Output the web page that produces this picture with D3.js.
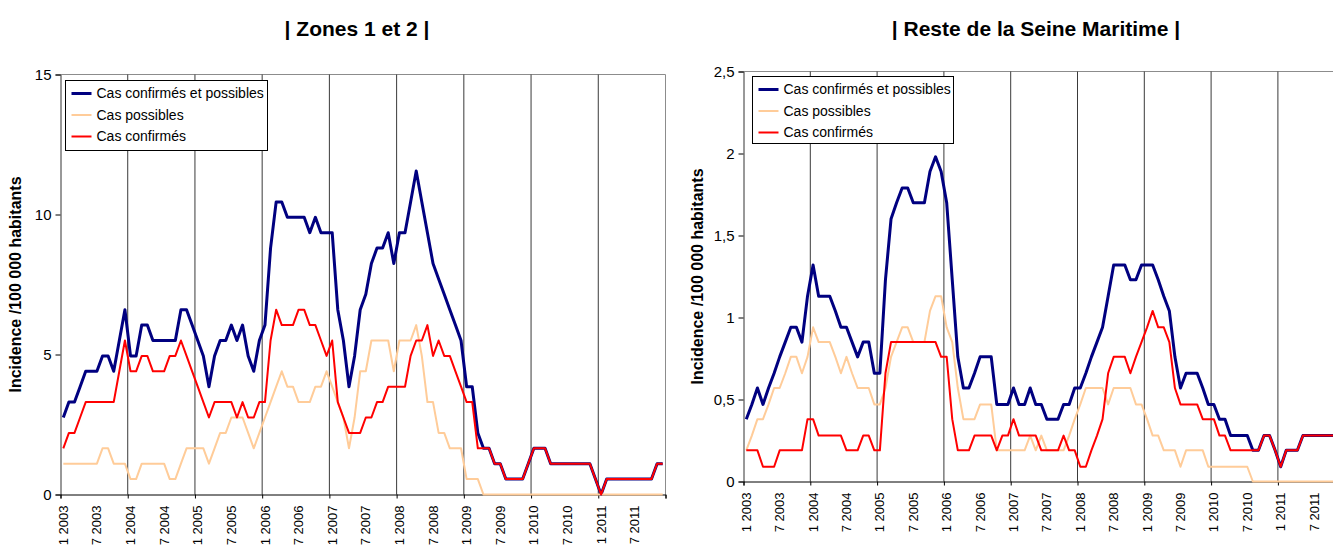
<!DOCTYPE html>
<html>
<head>
<meta charset="utf-8">
<script src="https://cdn.jsdelivr.net/npm/d3@7"></script>
<style>
  body { margin: 0; background: #fff; }
  text { font-family: Arial, "Liberation Sans", sans-serif; fill: #000; }
</style>
</head>
<body>
<svg id="chart" width="1333" height="545"></svg>
<script>
// months 1 2003 .. 12 2011, one value per month
const years = [2003, 2004, 2005, 2006, 2007, 2008, 2009, 2010, 2011];
const labelMonths = [1, 7];
const seriesNames = ['Cas confirmés et possibles', 'Cas possibles', 'Cas confirmés'];
const seriesColors = ['#000080', '#ffcc99', '#ff0000'];
const seriesWidths = [3, 2, 2];

// | Zones 1 et 2 |
const zonesTotal = [
  2.75,3.3,3.3,3.85,4.4,4.4,4.4,4.95,4.95,4.4,5.5,6.6,
  4.95,4.95,6.05,6.05,5.5,5.5,5.5,5.5,5.5,6.6,6.6,6.05,
  5.5,4.95,3.85,4.95,5.5,5.5,6.05,5.5,6.05,4.95,4.4,5.5,
  6.05,8.8,10.45,10.45,9.9,9.9,9.9,9.9,9.35,9.9,9.35,9.35,
  9.35,6.6,5.5,3.85,4.95,6.6,7.15,8.25,8.8,8.8,9.35,8.25,
  9.35,9.35,10.45,11.55,10.45,9.35,8.25,7.7,7.15,6.6,6.05,5.5,
  3.85,3.85,2.2,1.65,1.65,1.1,1.1,0.55,0.55,0.55,0.55,1.1,
  1.65,1.65,1.65,1.1,1.1,1.1,1.1,1.1,1.1,1.1,1.1,0.55,
  0,0.55,0.55,0.55,0.55,0.55,0.55,0.55,0.55,0.55,1.1,1.1];
const zonesPossible = [
  1.1,1.1,1.1,1.1,1.1,1.1,1.1,1.65,1.65,1.1,1.1,1.1,
  0.55,0.55,1.1,1.1,1.1,1.1,1.1,0.55,0.55,1.1,1.65,1.65,
  1.65,1.65,1.1,1.65,2.2,2.2,2.75,2.75,2.75,2.2,1.65,2.2,
  2.75,3.3,3.85,4.4,3.85,3.85,3.3,3.3,3.3,3.85,3.85,4.4,
  3.85,3.3,2.75,1.65,2.75,4.4,4.4,5.5,5.5,5.5,5.5,4.4,
  5.5,5.5,5.5,6.05,4.95,3.3,3.3,2.2,2.2,1.65,1.65,1.65,
  0.55,0.55,0.55,0,0,0,0,0,0,0,0,0,
  0,0,0,0,0,0,0,0,0,0,0,0,
  0,0,0,0,0,0,0,0,0,0,0,0];
const zonesConfirmed = [
  1.65,2.2,2.2,2.75,3.3,3.3,3.3,3.3,3.3,3.3,4.4,5.5,
  4.4,4.4,4.95,4.95,4.4,4.4,4.4,4.95,4.95,5.5,4.95,4.4,
  3.85,3.3,2.75,3.3,3.3,3.3,3.3,2.75,3.3,2.75,2.75,3.3,
  3.3,5.5,6.6,6.05,6.05,6.05,6.6,6.6,6.05,6.05,5.5,4.95,
  5.5,3.3,2.75,2.2,2.2,2.2,2.75,2.75,3.3,3.3,3.85,3.85,
  3.85,3.85,4.95,5.5,5.5,6.05,4.95,5.5,4.95,4.95,4.4,3.85,
  3.3,3.3,1.65,1.65,1.65,1.1,1.1,0.55,0.55,0.55,0.55,1.1,
  1.65,1.65,1.65,1.1,1.1,1.1,1.1,1.1,1.1,1.1,1.1,0.55,
  0,0.55,0.55,0.55,0.55,0.55,0.55,0.55,0.55,0.55,1.1,1.1];

// | Reste de la Seine Maritime |
const resteTotal = [
  0.38,0.47,0.57,0.47,0.57,0.66,0.76,0.85,0.94,0.94,0.85,1.13,
  1.32,1.13,1.13,1.13,1.04,0.94,0.94,0.85,0.76,0.85,0.85,0.66,
  0.66,1.23,1.6,1.7,1.79,1.79,1.7,1.7,1.7,1.89,1.98,1.89,
  1.7,1.23,0.76,0.57,0.57,0.66,0.76,0.76,0.76,0.47,0.47,0.47,
  0.57,0.47,0.47,0.57,0.47,0.47,0.38,0.38,0.38,0.47,0.47,0.57,
  0.57,0.66,0.76,0.85,0.94,1.13,1.32,1.32,1.32,1.23,1.23,1.32,
  1.32,1.32,1.23,1.13,1.04,0.76,0.57,0.66,0.66,0.66,0.57,0.47,
  0.47,0.38,0.38,0.28,0.28,0.28,0.28,0.19,0.19,0.28,0.28,0.19,
  0.09,0.19,0.19,0.19,0.28,0.28,0.28,0.28,0.28,0.28,0.28,0.28];
const restePossible = [
  0.19,0.28,0.38,0.38,0.47,0.57,0.57,0.66,0.76,0.76,0.66,0.76,
  0.94,0.85,0.85,0.85,0.76,0.66,0.76,0.66,0.57,0.57,0.57,0.47,
  0.47,0.57,0.76,0.85,0.94,0.94,0.85,0.85,0.85,1.04,1.13,1.13,
  0.94,0.85,0.57,0.38,0.38,0.38,0.47,0.47,0.47,0.19,0.19,0.19,
  0.19,0.19,0.19,0.28,0.19,0.28,0.19,0.19,0.19,0.19,0.28,0.38,
  0.47,0.57,0.57,0.57,0.57,0.47,0.57,0.57,0.57,0.57,0.47,0.47,
  0.38,0.28,0.28,0.19,0.19,0.19,0.09,0.19,0.19,0.19,0.19,0.09,
  0.09,0.09,0.09,0.09,0.09,0.09,0.09,0,0,0,0,0,
  0,0,0,0,0,0,0,0,0,0,0,0];
const resteConfirmed = [
  0.19,0.19,0.19,0.09,0.09,0.09,0.19,0.19,0.19,0.19,0.19,0.38,
  0.38,0.28,0.28,0.28,0.28,0.28,0.19,0.19,0.19,0.28,0.28,0.19,
  0.19,0.66,0.85,0.85,0.85,0.85,0.85,0.85,0.85,0.85,0.85,0.76,
  0.76,0.38,0.19,0.19,0.19,0.28,0.28,0.28,0.28,0.19,0.28,0.28,
  0.38,0.28,0.28,0.28,0.28,0.19,0.19,0.19,0.19,0.28,0.19,0.19,
  0.09,0.09,0.19,0.28,0.38,0.66,0.76,0.76,0.76,0.66,0.76,0.85,
  0.94,1.04,0.94,0.94,0.85,0.57,0.47,0.47,0.47,0.47,0.38,0.38,
  0.38,0.28,0.28,0.19,0.19,0.19,0.19,0.19,0.19,0.28,0.28,0.19,
  0.09,0.19,0.19,0.19,0.28,0.28,0.28,0.28,0.28,0.28,0.28,0.28];

// category labels "1 2003", "2 2003", ...
const categories = [];
years.forEach(y => d3.range(1, 13).forEach(m => categories.push(m + ' ' + y)));

const commaFormat = d => String(d).replace('.', ',');

/** draws one of the two panels */
function panel(svg, o) {

    let g = svg.append('g');
    let n = categories.length;

    let x = d3.scaleBand()
        .domain(d3.range(n))
        .range([o.left, o.right]);

    // same span, used for the boundaries between months
    let xEdge = d3.scaleLinear()
        .domain([0, n])
        .range([o.left, o.right]);

    let y = d3.scaleLinear()
        .domain([0, o.max])
        .range([o.bottom, o.top]);

    // plot frame, top and right in grey
    g.append('path')
        .attr('d', `M${o.left},${o.top}H${o.right}V${o.bottom}`)
        .attr('fill', 'none')
        .attr('stroke', '#8c8c8c');

    // one vertical line per year
    g.append('g')
        .selectAll('line')
        .data(d3.range(12, n, 12))
        .join('line')
            .attr('x1', d => xEdge(d)).attr('x2', d => xEdge(d))
            .attr('y1', o.top).attr('y2', o.bottom)
            .attr('stroke', '#3a3a3a');

    // y axis
    let yAxis = g.append('g')
        .attr('transform', `translate(${o.left},0)`)
        .call(d3.axisLeft(y).tickValues(o.ticks).tickSize(5).tickPadding(4).tickFormat(commaFormat));
    yAxis.selectAll('text').style('font-size', '15px').attr('fill', '#000');
    yAxis.select('.domain').attr('stroke', '#333');

    // x axis: ticks at the year boundaries...
    g.append('g')
        .attr('transform', `translate(0,${o.bottom})`)
        .call(d3.axisBottom(xEdge).tickValues(d3.range(0, n + 1, 12)).tickSize(4).tickFormat(''))
        .select('.domain').attr('stroke', '#000');

    // ...and labels every six months
    let xLabels = g.append('g')
        .attr('transform', `translate(0,${o.bottom})`)
        .call(d3.axisBottom(x)
            .tickValues(d3.range(n).filter(i => labelMonths.includes(i % 12 + 1)))
            .tickSize(0)
            .tickFormat(i => categories[i]));
    xLabels.select('.domain').remove();
    xLabels.selectAll('text')
        .attr('y', 0).attr('x', -11).attr('dy', '0.35em')
        .attr('transform', 'rotate(-90)')
        .style('text-anchor', 'end')
        .style('font-size', '13px')
        .attr('fill', '#000');

    // the three series
    let line = d3.line()
        .x((d, i) => x(i) + x.bandwidth() / 2)
        .y(d => y(d));

    g.append('g')
        .selectAll('path')
        .data(o.series)
        .join('path')
            .attr('d', line)
            .attr('fill', 'none')
            .attr('stroke', (d, i) => seriesColors[i])
            .attr('stroke-width', (d, i) => seriesWidths[i])
            .attr('stroke-linejoin', 'round');

    // titles
    g.append('text')
        .attr('x', o.titleX).attr('y', 36)
        .attr('text-anchor', 'middle')
        .style('font-size', '21px').style('font-weight', 'bold')
        .text(o.title);

    g.append('text')
        .attr('transform', `translate(${o.yTitleX},${(o.top + o.bottom) / 2}) rotate(-90)`)
        .attr('text-anchor', 'middle')
        .attr('dy', '0.35em')
        .style('font-size', '16px').style('font-weight', 'bold')
        .text('Incidence /100 000 habitants');

    // legend box
    let lg = g.append('g')
        .attr('transform', `translate(${o.legend[0]},${o.legend[1]})`);
    lg.append('rect')
        .attr('width', o.legend[2]).attr('height', o.legend[3])
        .attr('fill', '#fff').attr('stroke', '#000');
    let rows = lg.selectAll('g.row')
        .data(seriesNames)
        .join('g')
            .attr('class', 'row')
            .attr('transform', (d, i) => `translate(0,${13 + i * 21.5})`);
    rows.append('line')
        .attr('x1', 6).attr('x2', 26)
        .attr('stroke', (d, i) => seriesColors[i])
        .attr('stroke-width', (d, i) => seriesWidths[i]);
    rows.append('text')
        .attr('x', 31).attr('dy', '0.35em')
        .style('font-size', '14px')
        .text(d => d);
}

let svg = d3.select('#chart');

panel(svg, {
    title: '| Zones 1 et 2 |', titleX: 357,
    left: 60.5, right: 665.5, top: 74.5, bottom: 494.5,
    max: 15, ticks: [0, 5, 10, 15],
    yTitleX: 15,
    legend: [65.5, 80.5, 202, 70],
    series: [zonesTotal, zonesPossible, zonesConfirmed]
});

panel(svg, {
    title: '| Reste de la Seine Maritime |', titleX: 1036,
    left: 743.5, right: 1344.7, top: 71.5, bottom: 481.5,
    max: 2.5, ticks: [0, 0.5, 1, 1.5, 2, 2.5],
    yTitleX: 697,
    legend: [752.5, 76.5, 201, 67],
    series: [resteTotal, restePossible, resteConfirmed]
});
</script>
</body>
</html>
